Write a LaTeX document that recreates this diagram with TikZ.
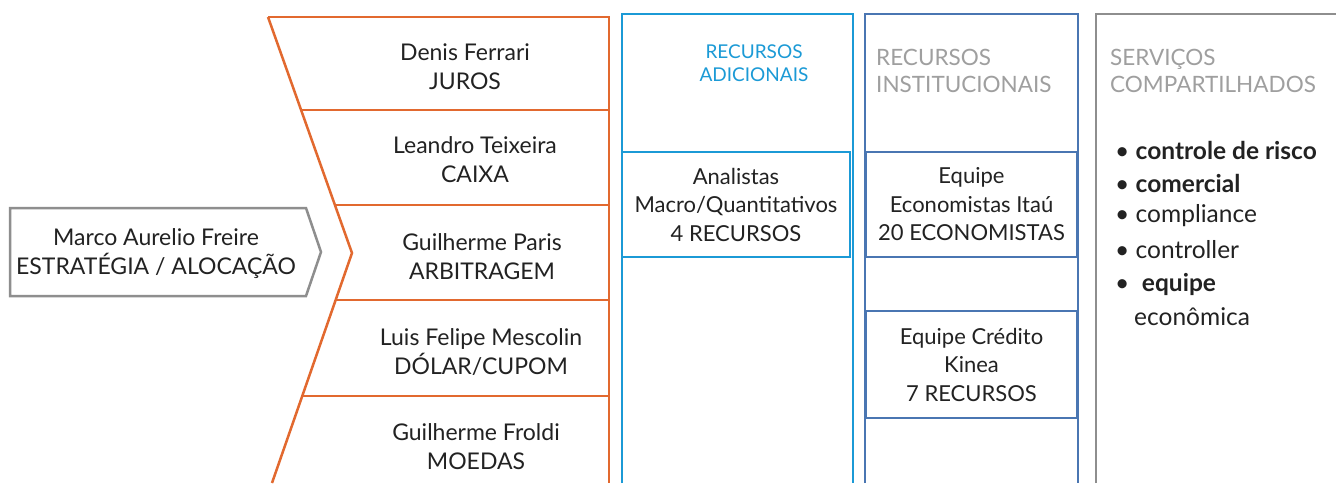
\documentclass[tikz,border=0pt]{standalone}
\usepackage{fontspec}
\setmainfont{Lato}
\usepackage{tikz}
\usetikzlibrary{positioning}
\definecolor{laranja}{HTML}{E2692F}
\definecolor{azulclaro}{HTML}{1B9AD6}
\definecolor{azul}{HTML}{4A76B2}
\definecolor{cinza}{HTML}{8E8E8E}
\definecolor{texto}{HTML}{222222}
\tikzset{pessoa/.style={align=center, text=texto, font=\fontsize{23}{29}\selectfont}}
\tikzset{equipe/.style={draw=azul, line width=2.5pt, minimum width=211pt, minimum height=105pt, align=center, text=texto, font=\fontsize{22}{28.5}\selectfont}}
\tikzset{titulo/.style={anchor=west, inner sep=0pt, align=left, text=cinza!85, font=\fontsize{22.5}{27}\selectfont}}
\tikzset{item/.style={anchor=west, inner sep=0pt, text=texto, font=\fontsize{24.5}{27}\selectfont}}

\begin{document}
\begin{tikzpicture}[x=1pt, y=-1pt, line join=miter]
    \useasboundingbox[fill=white] (0,0) rectangle (1336,483);
    \draw[cinza, line width=2.5pt] (10,208) -- (306,208) -- (321,252) -- (306,296) -- (10,296) -- cycle;
    \node[pessoa] (marco) at (156,254) {Marco Aurelio Freire\\ESTRATÉGIA / ALOCAÇÃO};
    \draw[laranja, line width=2.5pt] (268,17) -- (609,17) -- (609,483);
    \draw[laranja, line width=2.5pt] (268,17) -- (352,253) -- (272,483);
    \draw[laranja, line width=2.5pt] (301,110) -- (609,110);
    \draw[laranja, line width=2.5pt] (335,205) -- (609,205);
    \draw[laranja, line width=2.5pt] (335,300) -- (609,300);
    \draw[laranja, line width=2.5pt] (302,396) -- (609,396);
    \node[pessoa] (denis) at (465,67) {Denis Ferrari\\JUROS};
    \node[pessoa] (leandro) at (475,160) {Leandro Teixeira\\CAIXA};
    \node[pessoa] (paris) at (482,257) {Guilherme Paris\\ARBITRAGEM};
    \node[pessoa] (luis) at (481,352) {Luis Felipe Mescolin\\DÓLAR/CUPOM};
    \node[pessoa] (froldi) at (476,447) {Guilherme Froldi\\MOEDAS};
    \draw[azulclaro, line width=2.5pt] (622,483) -- (622,14) -- (853,14) -- (853,483);
    \node[align=center, text=azulclaro, font=\fontsize{19}{23}\selectfont] (adicionais) at (754,63) {RECURSOS\\ADICIONAIS};
    \node[equipe, draw=azulclaro, minimum width=228pt] (analistas) at (736,204.5) {Analistas\\Macro/Quantitativos\\4 RECURSOS};
    \draw[azul, line width=2.5pt] (865,483) -- (865,14) -- (1078,14) -- (1078,483);
    \node[titulo] (institucionais) at (876,70.5) {RECURSOS\\INSTITUCIONAIS};
    \node[equipe] (economistas) at (971.5,204.5) {Equipe\\Economistas Itaú\\20 ECONOMISTAS};
    \node[equipe, minimum height=107pt] (credito) at (971.5,364.5) {Equipe Crédito\\Kinea\\7 RECURSOS};
    \draw[cinza, line width=2.5pt] (1096,483) -- (1096,14) -- (1336,14);
    \node[titulo] (compartilhados) at (1110,70.5) {SERVIÇOS\\COMPARTILHADOS};
    \node[item] (risco) at (1115,150) {\textbullet\ \textbf{controle de risco}};
    \node[item] (comercial) at (1115,183) {\textbullet\ \textbf{comercial}};
    \node[item] (compliance) at (1115,216) {\textbullet\ compliance};
    \node[item] (controller) at (1115,250) {\textbullet\ controller};
    \node[item] (equipe) at (1115,284) {\textbullet\ \ \textbf{equipe}};
    \node[item] (economica) at (1134,317) {econômica};
\end{tikzpicture}
\end{document}
